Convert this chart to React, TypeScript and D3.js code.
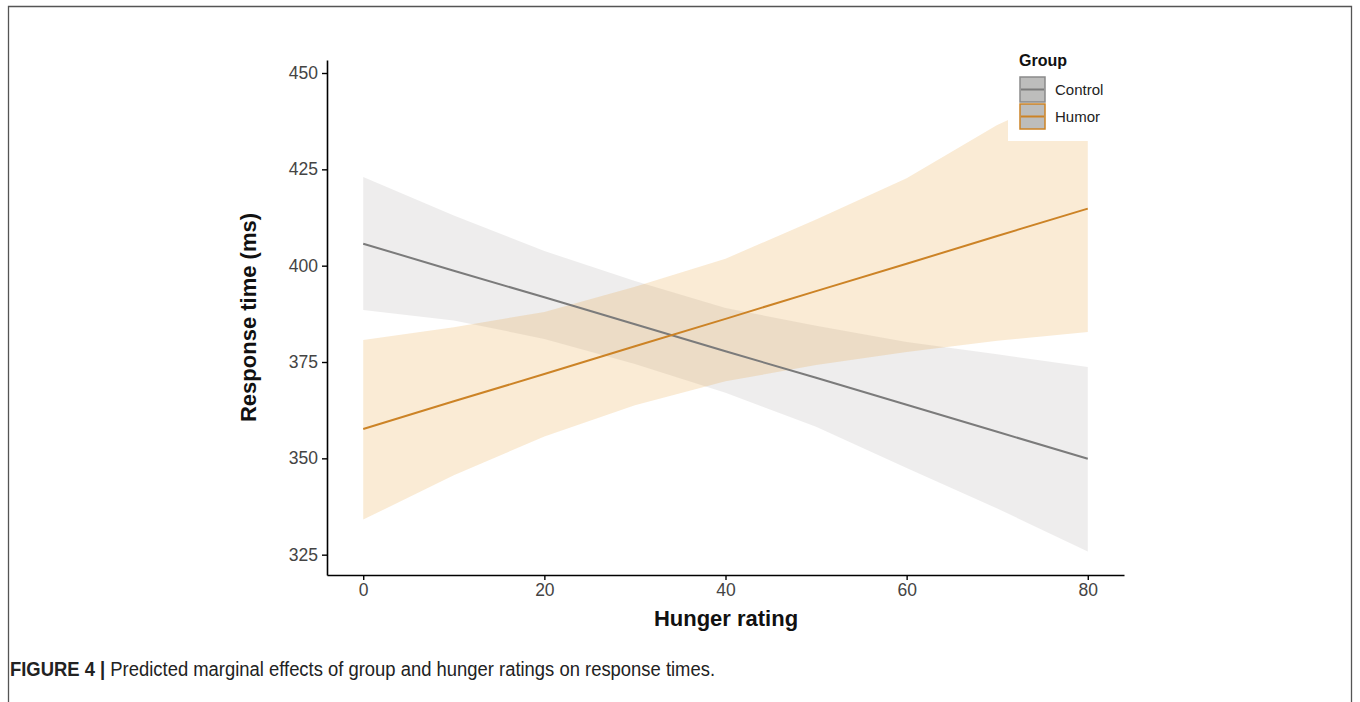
import React, { useEffect, useRef } from "react";
import * as d3 from "d3";

// hunger ratings where the model was evaluated
const hunger = [0, 10, 20, 30, 40, 50, 60, 70, 80];

// Control group: prediction and 95% CI
const controlFit = [405.7, 398.7, 391.8, 384.8, 377.8, 370.9, 363.9, 356.9, 349.9];
const controlLow = [388.5, 385.8, 381.0, 374.5, 367.0, 358.2, 347.5, 337.0, 325.8];
const controlHigh = [423.0, 413.0, 403.8, 396.0, 389.0, 384.4, 380.2, 377.0, 373.7];

// Humor group: prediction and 95% CI
const humorFit = [357.6, 364.8, 371.9, 379.1, 386.2, 393.4, 400.5, 407.7, 414.8];
const humorLow = [334.1, 345.6, 355.7, 363.8, 370.0, 374.2, 377.6, 380.5, 382.8];
const humorHigh = [380.7, 384.0, 388.0, 394.5, 401.8, 412.0, 422.7, 436.5, 447.3];

const xTicks = [0, 20, 40, 60, 80];
const yTicks = [325, 350, 375, 400, 425, 450];
const groups = ["Control", "Humor"];

const W = 1360;
const H = 702;

export default function App() {
  const ref = useRef<SVGSVGElement>(null);

  useEffect(() => {
    const svg = d3.select(ref.current);
    svg.selectAll("*").remove();

    const left = 327, right = 1124, top = 60, bottom = 575;
    const font = "'Liberation Sans', Arial, Helvetica, sans-serif";

    // frame around the figure
    svg.append("path")
      .attr("d", `M8.5,${H + 5} L8.5,6.5 L1351.5,6.5 L1351.5,${H + 5}`)
      .attr("fill", "none")
      .attr("stroke", "#555")
      .attr("stroke-width", 1.3);

    const x = d3.scaleLinear().domain([-4, 84]).range([left, right]);
    const all = [...controlLow, ...controlHigh, ...humorLow, ...humorHigh];
    const lo = d3.min(all) as number;
    const hi = d3.max(all) as number;
    const pad = (hi - lo) * 0.05;
    const y = d3.scaleLinear().domain([lo - pad, hi + pad]).range([bottom, top]);

    const series = [
      { name: "Control", fit: controlFit, low: controlLow, high: controlHigh, line: "#7b7b7b", fill: "#858380", op: 0.14 },
      { name: "Humor", fit: humorFit, low: humorLow, high: humorHigh, line: "#cc8326", fill: "#e69b2d", op: 0.2 }
    ];

    const area = d3.area<number>()
      .x((d, i) => x(hunger[i]));
    const line = d3.line<number>()
      .x((d, i) => x(hunger[i]))
      .y((d) => y(d));

    series.forEach((s) => {
      svg.append("path")
        .datum(s.low)
        .attr("d", area.y0((d) => y(d)).y1((d, i) => y(s.high[i])) as any)
        .attr("fill", s.fill)
        .attr("fill-opacity", s.op);
    });
    series.forEach((s) => {
      svg.append("path")
        .datum(s.fit)
        .attr("d", line as any)
        .attr("fill", "none")
        .attr("stroke", s.line)
        .attr("stroke-width", 2);
    });

    // axes
    const gx = svg.append("g")
      .attr("transform", `translate(0,${bottom})`)
      .call(d3.axisBottom(x).tickValues(xTicks).tickSize(5).tickSizeOuter(0).tickPadding(4));
    const gy = svg.append("g")
      .attr("transform", `translate(${left},0)`)
      .call(d3.axisLeft(y).tickValues(yTicks).tickSize(5).tickSizeOuter(0).tickPadding(4));
    [gx, gy].forEach((g) => {
      g.select(".domain").attr("stroke", "#000").attr("stroke-width", 1.6);
      g.selectAll(".tick line").attr("stroke", "#000").attr("stroke-width", 1.4);
      g.selectAll(".tick text")
        .attr("fill", "#444")
        .attr("font-size", 17.5)
        .attr("font-family", font);
    });

    // axis titles
    svg.append("text")
      .attr("x", (left + right) / 2 + 0.5)
      .attr("y", 626)
      .attr("text-anchor", "middle")
      .attr("font-family", font)
      .attr("font-weight", "bold")
      .attr("font-size", 22)
      .attr("fill", "#111")
      .text("Hunger rating");
    svg.append("text")
      .attr("transform", `translate(256,${(top + bottom) / 2}) rotate(-90)`)
      .attr("text-anchor", "middle")
      .attr("font-family", font)
      .attr("font-weight", "bold")
      .attr("font-size", 22)
      .attr("fill", "#111")
      .text("Response time (ms)");

    // legend
    const lg = svg.append("g");
    lg.append("rect")
      .attr("x", 1008).attr("y", 44).attr("width", 104).attr("height", 97)
      .attr("fill", "#fff");
    lg.append("text")
      .attr("x", 1019).attr("y", 66)
      .attr("font-family", font)
      .attr("font-weight", "bold")
      .attr("font-size", 16)
      .attr("fill", "#111")
      .text("Group");
    const key = d3.scaleBand().domain(groups).range([76, 130]);
    series.forEach((s) => {
      const ky = key(s.name) as number;
      lg.append("rect")
        .attr("x", 1020).attr("y", ky + 1)
        .attr("width", 25).attr("height", 25)
        .attr("fill", "#bdbdbc")
        .attr("stroke", s.name === "Control" ? "#8a8a8a" : "#cc8326")
        .attr("stroke-width", 1.5);
      lg.append("line")
        .attr("x1", 1021).attr("x2", 1044)
        .attr("y1", ky + 13.5).attr("y2", ky + 13.5)
        .attr("stroke", s.line)
        .attr("stroke-width", 2);
      lg.append("text")
        .attr("x", 1055).attr("y", ky + 19)
        .attr("font-family", font)
        .attr("font-size", 15)
        .attr("fill", "#222")
        .text(s.name);
    });

    // caption (condensed face approximated by squeezing the text)
    const cap = svg.append("text")
      .attr("x", 10).attr("y", 676)
      .attr("font-family", font)
      .attr("font-size", 19.5)
      .attr("fill", "#222")
      .attr("textLength", 705)
      .attr("lengthAdjust", "spacingAndGlyphs");
    cap.append("tspan").attr("font-weight", "bold").text("FIGURE 4 | ");
    cap.append("tspan").text("Predicted marginal effects of group and hunger ratings on response times.");
  }, []);

  return (
    <div style={{ position: "fixed", left: 0, top: 0 }}>
      <svg ref={ref} width={W} height={H} style={{ display: "block", background: "#fff" }} />
    </div>
  );
}
